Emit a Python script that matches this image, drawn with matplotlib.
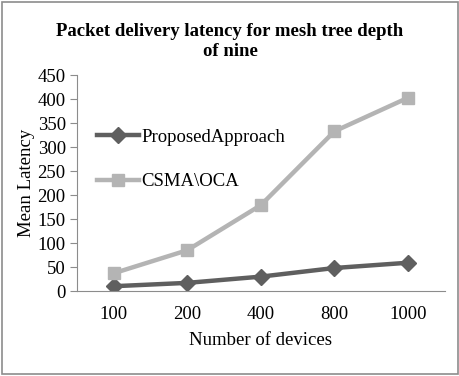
import matplotlib
matplotlib.use("Agg")
import matplotlib.pyplot as plt
from matplotlib.patches import Rectangle

plt.rcParams['font.family'] = ['Liberation Serif', 'DejaVu Serif']

devices = ['100', '200', '400', '800', '1000']
proposed = [10, 17, 30, 48, 59]
csma = [37, 85, 179, 333, 403]

fig = plt.figure(figsize=(4.6, 3.76), dpi=100)
fig.patches.append(Rectangle((0.004, 0.004), 0.992, 0.992, transform=fig.transFigure,
                             fill=False, edgecolor='#8c8c8c', linewidth=1.2))
ax = fig.add_axes([0.167, 0.226, 0.80, 0.574])

x = range(len(devices))
ax.plot(x, proposed, color='#5f5f5f', lw=3.2, marker='D', ms=8, label='ProposedApproach')
ax.plot(x, csma, color='#b4b4b4', lw=3.2, marker='s', ms=9, label='CSMA\\OCA')

ax.set_xlim(-0.5, 4.5)
ax.set_ylim(0, 450)
ax.set_yticks(range(0, 451, 50))
ax.set_xticks(list(x))
ax.set_xticklabels(devices)
ax.tick_params(axis='both', labelsize=13.5)
ax.tick_params(axis='x', length=0, pad=11)
ax.tick_params(axis='y', length=5, color='#8c8c8c', direction='out', pad=3)
for s in ['top', 'right']:
    ax.spines[s].set_visible(False)
ax.spines['left'].set_color('#8c8c8c')
ax.spines['bottom'].set_color('#8c8c8c')

ax.set_xlabel('Number of devices', fontsize=13.5, labelpad=6)
ax.set_ylabel('Mean Latency', fontsize=13.5, labelpad=2)
fig.suptitle('Packet delivery latency for mesh tree depth\nof nine', fontsize=13.5,
             fontweight='bold', y=0.94, linespacing=1.25)

ax.legend(loc='upper left', bbox_to_anchor=(0.01, 0.83), frameon=False, fontsize=13.5,
          handlelength=2.2, labelspacing=1.45, handletextpad=0.15)

fig.savefig('out.png', dpi=100)
